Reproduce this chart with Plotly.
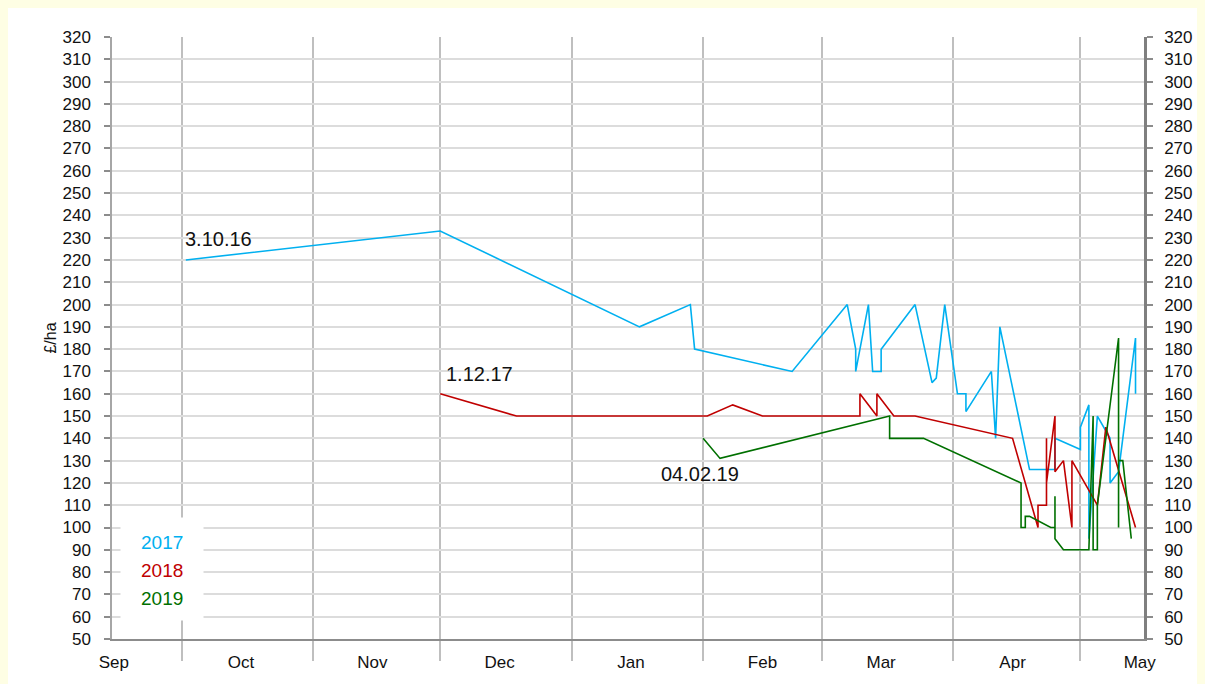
import pandas as pd
import plotly.graph_objects as go

# ---------------- data ----------------
months = ["Sep", "Oct", "Nov", "Dec", "Jan", "Feb", "Mar", "Apr", "May"]
month_mid = ["2016-09-15", "2016-10-15", "2016-11-15", "2016-12-15", "2017-01-15",
             "2017-02-15", "2017-03-15", "2017-04-15", "2017-05-15"]
month_start = ["2016-10-01", "2016-11-01", "2016-12-01", "2017-01-01", "2017-02-01",
               "2017-03-01", "2017-04-01", "2017-05-01"]

dates_2017 = ["2016-10-02", "2016-12-01", "2017-01-17", "2017-01-29", "2017-01-30",
              "2017-02-22", "2017-03-07", "2017-03-09", "2017-03-09", "2017-03-12",
              "2017-03-13", "2017-03-15", "2017-03-15", "2017-03-23", "2017-03-27",
              "2017-03-28", "2017-03-30", "2017-04-02", "2017-04-04", "2017-04-04",
              "2017-04-10", "2017-04-11", "2017-04-12", "2017-04-19", "2017-04-25",
              "2017-04-25", "2017-05-01", "2017-05-01", "2017-05-03", "2017-05-03",
              "2017-05-05", "2017-05-08", "2017-05-08", "2017-05-10", "2017-05-11",
              "2017-05-14", "2017-05-14"]
prices_2017 = [220, 233, 190, 200, 180, 170, 200, 180, 170, 200,
               170, 170, 180, 200, 165, 167, 200, 160, 160, 152,
               170, 140, 190, 126, 126, 140, 135, 145, 155, 95,
               150, 140, 120, 125, 140, 185, 160]

dates_2018 = ["2017-12-01", "2017-12-19", "2018-02-02", "2018-02-08", "2018-02-15",
              "2018-03-10", "2018-03-10", "2018-03-14", "2018-03-14", "2018-03-18",
              "2018-03-23", "2018-04-15", "2018-04-21", "2018-04-21", "2018-04-23",
              "2018-04-23", "2018-04-23", "2018-04-25", "2018-04-25", "2018-04-27",
              "2018-04-29", "2018-04-29", "2018-05-05", "2018-05-07", "2018-05-14"]
prices_2018 = [160, 150, 150, 155, 150, 150, 160, 150, 160, 150,
               150, 140, 100, 110, 110, 140, 120, 150, 125, 130,
               100, 130, 110, 145, 100]

dates_2019 = ["2019-02-01", "2019-02-05", "2019-03-17", "2019-03-17", "2019-03-25",
              "2019-04-17", "2019-04-17", "2019-04-18", "2019-04-18", "2019-04-19",
              "2019-04-24", "2019-04-25", "2019-04-25", "2019-04-25", "2019-04-27",
              "2019-05-03", "2019-05-04", "2019-05-04", "2019-05-05", "2019-05-05",
              "2019-05-10", "2019-05-10", "2019-05-10", "2019-05-11", "2019-05-13"]
prices_2019 = [140, 131, 150, 140, 140, 120, 100, 100, 105, 105,
               100, 100, 114, 95, 90, 90, 150, 90, 90, 110,
               185, 100, 130, 130, 95]

series_names = ["2017", "2018", "2019"]
start_labels = ["3.10.16", "1.12.17", "04.02.19"]
season_shift_years = [0, 1, 2]  # shift onto the common Sep-May season axis

# ---------------- style ----------------
colors = ["#00B0F0", "#C00000", "#007000"]
label_pos = [dict(xanchor="left", xshift=-3, yshift=21),
             dict(xanchor="left", xshift=4, yshift=20),
             dict(xanchor="center", xshift=-3, yshift=-36)]
legend_rows_y = [0.16, 0.1133, 0.0667]   # paper positions of the legend lines
FONT = "Liberation Sans Narrow, Arial Narrow, Liberation Sans, Arial, sans-serif"
TICK_COLOR = "#8C8C8C"
CREAM = "#FEFEE4"

all_dates = [dates_2017, dates_2018, dates_2019]
all_prices = [prices_2017, prices_2018, prices_2019]

fig = go.Figure()
annotations = [dict(x=0.0483, y=0.1167, xref="paper", yref="paper", text=" ",
                    showarrow=False, width=80, height=100, bgcolor="white",
                    xanchor="center", yanchor="middle")]
for name, d, v, shift, col, lab, pos, ly in zip(series_names, all_dates, all_prices,
                                                season_shift_years, colors, start_labels,
                                                label_pos, legend_rows_y):
    x = pd.to_datetime(d) - pd.DateOffset(years=shift)
    fig.add_trace(go.Scatter(x=x, y=v, mode="lines", name=name,
                             line=dict(color=col, width=1.6), showlegend=False))
    annotations.append(dict(x=x[0], y=v[0], xref="x", yref="y", text=lab, showarrow=False,
                            font=dict(family=FONT, size=20, color="#111111"),
                            xanchor=pos["xanchor"], yanchor="middle",
                            xshift=pos["xshift"], yshift=pos["yshift"]))
    annotations.append(dict(x=0.0483, y=ly, xref="paper", yref="paper", text=name,
                            showarrow=False, font=dict(family=FONT, size=19, color=col),
                            xanchor="center", yanchor="middle"))

# invisible trace so the mirrored right-hand axis is drawn
fig.add_trace(go.Scatter(x=[], y=[], yaxis="y2", showlegend=False, hoverinfo="skip"))

yaxis_common = dict(range=[50, 320], dtick=10, tick0=50, ticks="outside", ticklen=6,
                    tickcolor=TICK_COLOR, tickwidth=1.5,
                    tickfont=dict(family=FONT, size=17, color="#111111"),
                    showline=True, zeroline=False)

fig.update_layout(
    width=1197, height=676,
    margin=dict(l=104, r=50, t=29, b=39),
    paper_bgcolor="white",
    plot_bgcolor="white",
    font=dict(family=FONT, color="#111111"),
    xaxis=dict(type="date", range=["2016-09-14 14:00", "2017-05-16 00:00"],
               tickmode="array", tickvals=month_mid, ticktext=months,
               ticks="outside", ticklen=7, tickcolor="rgba(0,0,0,0)",
               tickfont=dict(family=FONT, size=17, color="#111111"),
               showgrid=False, zeroline=False,
               showline=True, linecolor=TICK_COLOR, linewidth=1.5,
               minor=dict(tickmode="array", tickvals=month_start, ticks="outside",
                          ticklen=20, tickcolor="#BFBFBF", tickwidth=1.5,
                          showgrid=True, gridcolor="#BFBFBF", gridwidth=1.5)),
    yaxis=dict(**yaxis_common, side="left", linecolor="#A6A6A6", linewidth=1.5,
               showgrid=True, gridcolor="#DCDCDC", gridwidth=1.5,
               ticklabelstandoff=10,
               title=dict(text="£/ha", font=dict(family=FONT, size=16, color="#111111"),
                          standoff=2)),
    yaxis2=dict(**yaxis_common, side="right", overlaying="y", linecolor="#7F7F7F",
                linewidth=2.5, showgrid=False, ticklabelstandoff=8),
    annotations=annotations,
)

fig.write_html("out.html",
               post_script=f"document.body.style.background='{CREAM}';"
                           "var d=document.getElementById('{plot_id}');"
                           "d.style.outline='1.5px solid #A0A0A0';")
